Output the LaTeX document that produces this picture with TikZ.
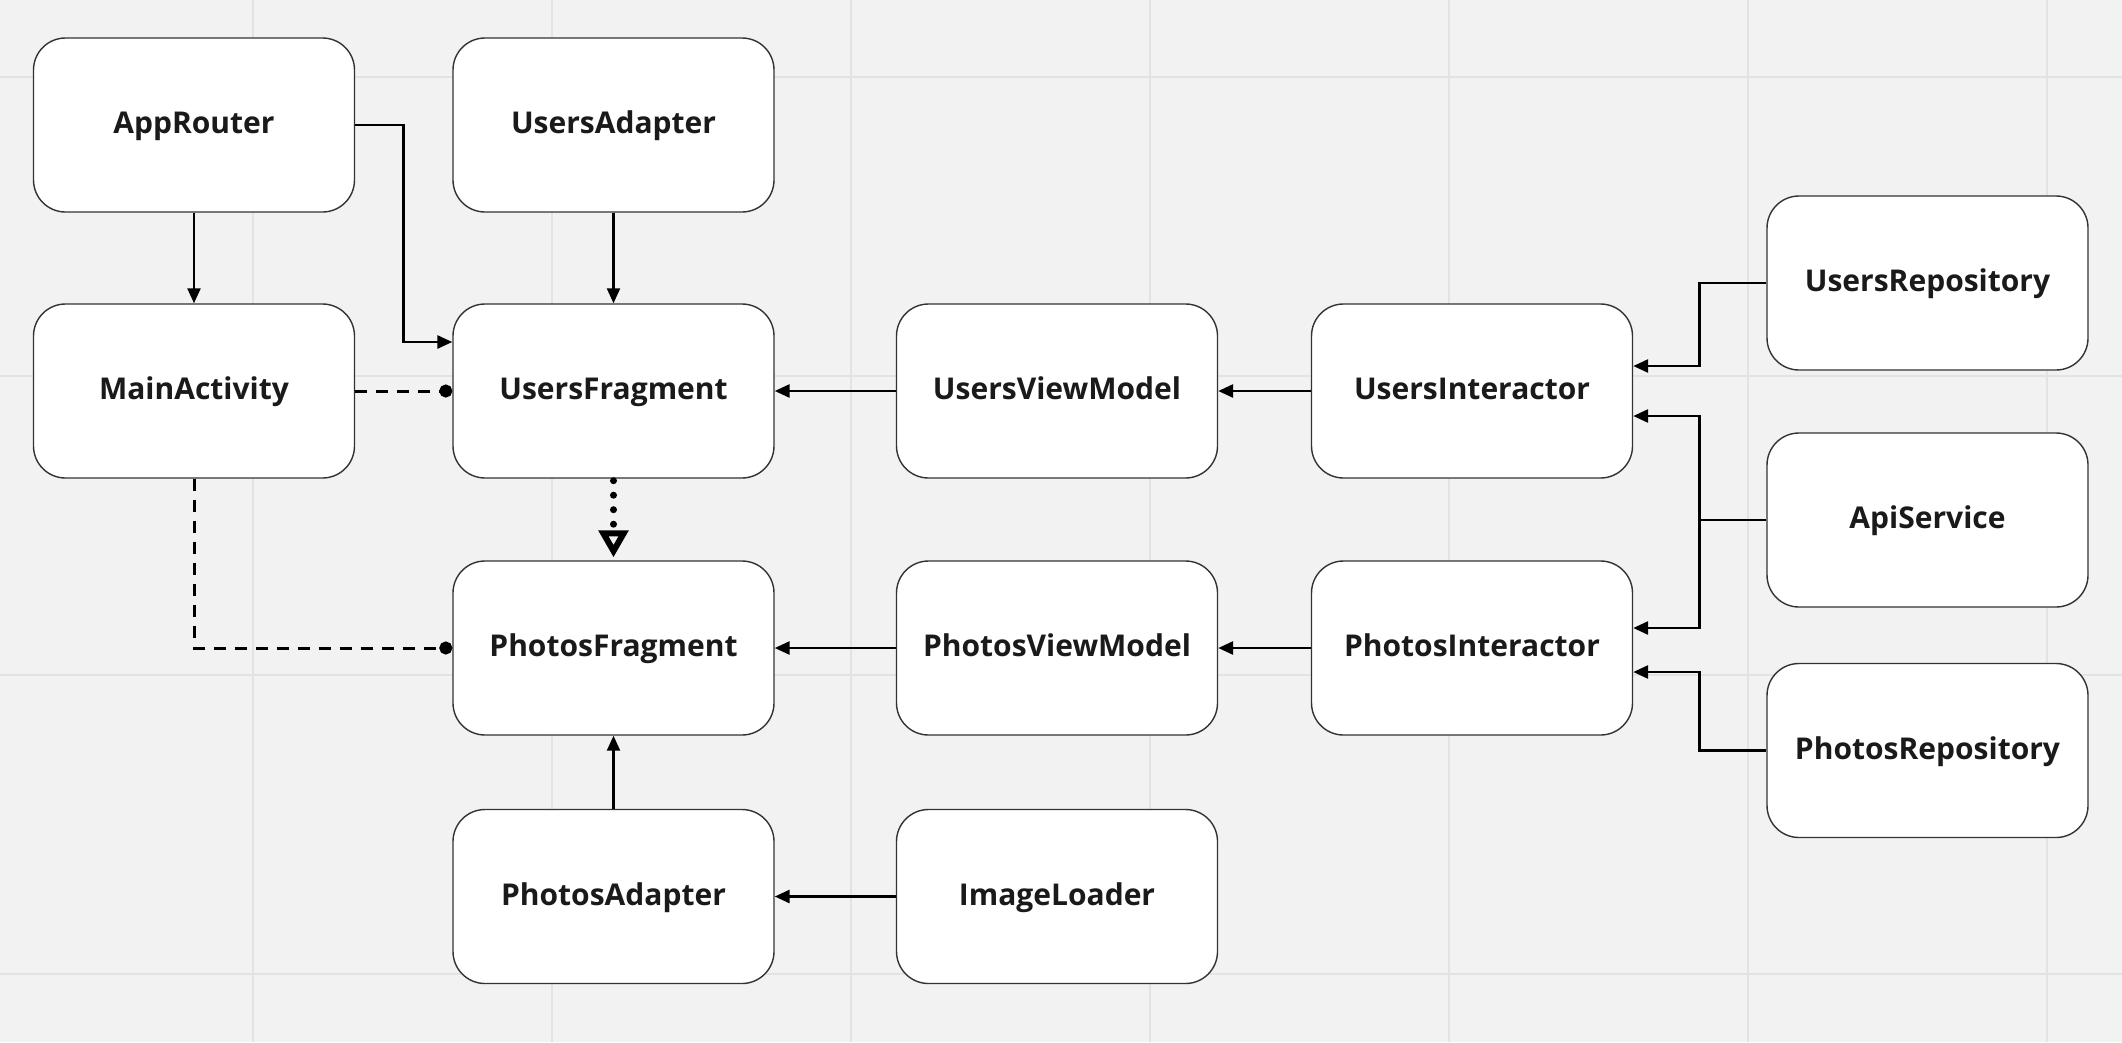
\documentclass[tikz,border=0pt]{standalone}
\usepackage{fontspec}
\setmainfont{Open Sans}
\usetikzlibrary{arrows.meta,calc}
\definecolor{bgc}{HTML}{F2F2F2}
\definecolor{gridc}{HTML}{E3E3E3}
\definecolor{boxc}{HTML}{333333}
\definecolor{txtc}{HTML}{1A1A1A}
\tikzset{
  box/.style={draw=boxc, line width=1.4pt, fill=white, rounded corners=32pt,
    minimum width=321pt, minimum height=174pt, inner sep=0pt,
    text height=21.5pt, text depth=4pt,
    font=\fontsize{30}{34}\selectfont\bfseries, text=txtc},
  arr/.style={line width=2.8pt, -{Triangle[length=15pt,width=13pt]}},
  thinarr/.style={line width=2.3pt, -{Triangle[length=15pt,width=13pt]}},
  dashconn/.style={line width=3pt, dash pattern=on 12pt off 9pt, -{Circle[length=13pt,width=13pt]}},
  dotconn/.style={line width=7pt, line cap=round, dash pattern=on 0pt off 14.5pt,
    -{Triangle[open,length=27pt,width=29pt,line width=6pt,line cap=butt]}},
}
\begin{document}
\begin{tikzpicture}[x=1pt,y=-1pt]
\fill[bgc] (0,0) rectangle (2122,1042);
\useasboundingbox (0,0) rectangle (2122,1042);
\foreach \gx in {253,552,851,1150,1449,1748,2047} \draw[gridc,line width=2pt] (\gx,0) -- (\gx,1042);
\foreach \gy in {77,376,675,974} \draw[gridc,line width=2pt] (0,\gy) -- (2122,\gy);

\node[box] (approuter) at (194,125) {AppRouter};
\node[box] (usersadapter) at (613.5,125) {UsersAdapter};
\node[box] (mainactivity) at (194,391) {MainActivity};
\node[box] (usersfragment) at (613.5,391) {UsersFragment};
\node[box] (usersviewmodel) at (1057,391) {UsersViewModel};
\node[box] (usersinteractor) at (1472,391) {UsersInteractor};
\node[box] (photosfragment) at (613.5,648) {PhotosFragment};
\node[box] (photosviewmodel) at (1057,648) {PhotosViewModel};
\node[box] (photosinteractor) at (1472,648) {PhotosInteractor};
\node[box] (photosadapter) at (613.5,896.5) {PhotosAdapter};
\node[box] (imageloader) at (1057,896.5) {ImageLoader};
\node[box] (usersrepository) at (1927.5,283) {UsersRepository};
\node[box] (apiservice) at (1927.5,520) {ApiService};
\node[box] (photosrepository) at (1927.5,750.5) {PhotosRepository};

\draw[thinarr] (approuter) -- (mainactivity);
\draw[arr] (approuter.east) -- ++(48,0) |- ($(usersfragment.west)+(0,-49)$);
\draw[thinarr] (usersadapter) -- (usersfragment);
\draw[dashconn] (mainactivity.east) -- (usersfragment.west);
\draw[dashconn] (mainactivity.south) |- (photosfragment.west);
\draw[dotconn] ($(usersfragment.south)+(0,2)$) -- ($(photosfragment.north)+(0,-3)$);
\draw[arr] (usersviewmodel) -- (usersfragment);
\draw[arr] (usersinteractor) -- (usersviewmodel);
\draw[arr] (photosviewmodel) -- (photosfragment);
\draw[arr] (photosinteractor) -- (photosviewmodel);
\draw[arr] (imageloader) -- (photosadapter);
\draw[thinarr] (photosadapter) -- (photosfragment);
\draw[arr] (usersrepository.west) -- ++(-67,0) |- ($(usersinteractor.east)+(0,-25)$);
\draw[arr] (apiservice.west) -- ++(-67,0) |- ($(usersinteractor.east)+(0,25)$);
\draw[arr] (apiservice.west) -- ++(-67,0) |- ($(photosinteractor.east)+(0,-20)$);
\draw[arr] (photosrepository.west) -- ++(-67,0) |- ($(photosinteractor.east)+(0,24)$);
\end{tikzpicture}
\end{document}
